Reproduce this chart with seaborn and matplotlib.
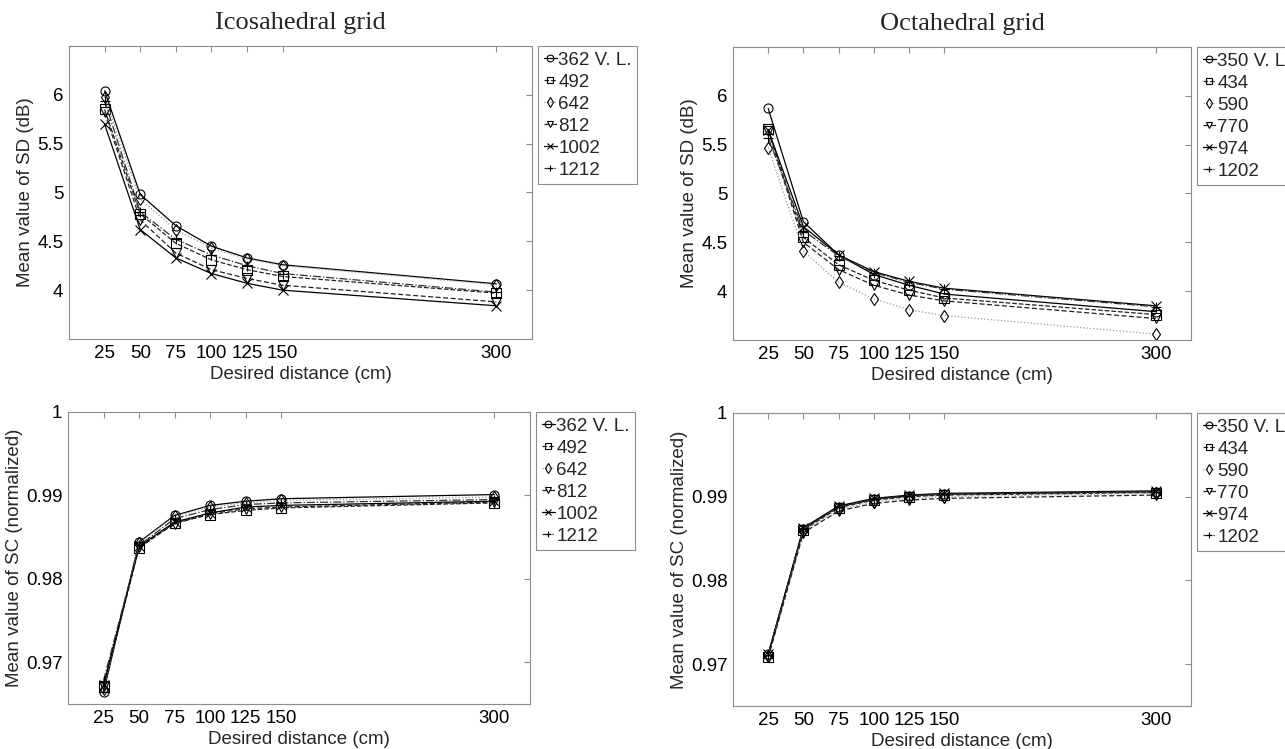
import numpy as np
import pandas as pd
import matplotlib
matplotlib.use("Agg")
import matplotlib.pyplot as plt
from matplotlib.ticker import FuncFormatter
import seaborn as sns

# ---------------- data ----------------
distances = [25, 50, 75, 100, 125, 150, 300]
xticks = [25, 50, 75, 100, 125, 150, 300]

ico_labels = ["362 V. L.", "492", "642", "812", "1002", "1212"]
oct_labels = ["350 V. L", "434", "590", "770", "974", "1202"]

# Icosahedral grid, mean SD (dB)
ico_sd_362 = [6.04, 4.98, 4.66, 4.45, 4.33, 4.26, 4.065]
ico_sd_492 = [5.85, 4.78, 4.48, 4.31, 4.21, 4.14, 3.97]
ico_sd_642 = [5.98, 4.93, 4.62, 4.43, 4.32, 4.25, 4.055]
ico_sd_812 = [5.82, 4.72, 4.38, 4.21, 4.12, 4.05, 3.88]
ico_sd_1002 = [5.70, 4.62, 4.33, 4.17, 4.07, 4.00, 3.84]
ico_sd_1212 = [5.94, 4.80, 4.52, 4.36, 4.25, 4.17, 3.98]

# Octahedral grid, mean SD (dB)
oct_sd_350 = [5.87, 4.71, 4.37, 4.17, 4.06, 3.97, 3.79]
oct_sd_434 = [5.66, 4.55, 4.27, 4.11, 4.01, 3.93, 3.76]
oct_sd_590 = [5.47, 4.41, 4.09, 3.92, 3.81, 3.75, 3.56]
oct_sd_770 = [5.64, 4.50, 4.22, 4.06, 3.96, 3.90, 3.72]
oct_sd_974 = [5.65, 4.66, 4.37, 4.20, 4.10, 4.03, 3.85]
oct_sd_1202 = [5.57, 4.62, 4.36, 4.19, 4.09, 4.02, 3.84]

# Icosahedral grid, mean SC (normalized)
ico_sc_362 = [0.9664, 0.9844, 0.9876, 0.9888, 0.9893, 0.9896, 0.9901]
ico_sc_492 = [0.9670, 0.9837, 0.9867, 0.9877, 0.9882, 0.9885, 0.9891]
ico_sc_642 = [0.9668, 0.9843, 0.9875, 0.9886, 0.9891, 0.9894, 0.9898]
ico_sc_812 = [0.9672, 0.9838, 0.9866, 0.9878, 0.9884, 0.9886, 0.9892]
ico_sc_1002 = [0.9673, 0.9839, 0.9868, 0.9879, 0.9886, 0.9888, 0.9893]
ico_sc_1212 = [0.9678, 0.9840, 0.9872, 0.9883, 0.9889, 0.9891, 0.9895]

# Octahedral grid, mean SC (normalized)
oct_sc_350 = [0.9712, 0.9862, 0.9888, 0.9897, 0.9901, 0.9903, 0.9906]
oct_sc_434 = [0.9709, 0.9860, 0.9887, 0.9896, 0.9900, 0.9902, 0.9905]
oct_sc_590 = [0.9710, 0.9859, 0.9885, 0.9894, 0.9898, 0.9900, 0.9904]
oct_sc_770 = [0.9708, 0.9857, 0.9883, 0.9892, 0.9896, 0.9898, 0.9902]
oct_sc_974 = [0.9712, 0.9863, 0.9889, 0.9898, 0.9902, 0.9904, 0.9907]
oct_sc_1202 = [0.9711, 0.9862, 0.9888, 0.9897, 0.9901, 0.9903, 0.9906]

sd_yticks = [4, 4.5, 5, 5.5, 6]
sc_yticks = [0.97, 0.98, 0.99, 1.0]

titles = ["Icosahedral grid", "Octahedral grid"]
xlabel = "Desired distance (cm)"
ylabel_sd = "Mean value of SD (dB)"
ylabel_sc = "Mean value of SC (normalized)"

# ---------------- style ----------------
sns.set_style("white")
plt.rcParams["font.family"] = ["Liberation Sans", "DejaVu Sans"]
FS = 13.5

series_styles = [
    dict(color="black", linestyle="-", marker="o", mec="black"),
    dict(color="#222222", linestyle="--", marker="s", mec="black"),
    dict(color="#9a9a9a", linestyle=":", marker="d", mec="black"),
    dict(color="#222222", linestyle=(0, (4, 2)), marker="v", mec="black"),
    dict(color="black", linestyle="-", marker="x", mec="black"),
    dict(color="#333333", linestyle="-.", marker="+", mec="black"),
]

fig = plt.figure(figsize=(12.85, 7.49), dpi=100)
positions = {
    "tl": [0.0537, 0.5474, 0.3603, 0.3912],
    "tr": [0.5704, 0.5461, 0.3564, 0.3912],
    "bl": [0.0529, 0.0601, 0.3595, 0.3899],
    "br": [0.5704, 0.0574, 0.3564, 0.3912],
}

panels = [
    ("tl", [ico_sd_362, ico_sd_492, ico_sd_642, ico_sd_812, ico_sd_1002, ico_sd_1212],
     ico_labels, ylabel_sd, (3.5, 6.5), sd_yticks, titles[0]),
    ("tr", [oct_sd_350, oct_sd_434, oct_sd_590, oct_sd_770, oct_sd_974, oct_sd_1202],
     oct_labels, ylabel_sd, (3.5, 6.5), sd_yticks, titles[1]),
    ("bl", [ico_sc_362, ico_sc_492, ico_sc_642, ico_sc_812, ico_sc_1002, ico_sc_1212],
     ico_labels, ylabel_sc, (0.965, 1.0), sc_yticks, None),
    ("br", [oct_sc_350, oct_sc_434, oct_sc_590, oct_sc_770, oct_sc_974, oct_sc_1202],
     oct_labels, ylabel_sc, (0.965, 1.0), sc_yticks, None),
]

spine_color = "#8c8c8c"

for key, series, labels, ylab, ylim, yticks, title in panels:
    ax = fig.add_axes(positions[key])
    for vals, lab, st in zip(series, labels, series_styles):
        df = pd.DataFrame({"distance": distances, "value": vals})
        sns.lineplot(data=df, x="distance", y="value", ax=ax,
                     color=st["color"], linestyle=st["linestyle"],
                     marker=st["marker"], markersize=6.5,
                     markerfacecolor="none", markeredgecolor=st["mec"],
                     markeredgewidth=0.8, linewidth=0.9,
                     label=lab, errorbar=None, sort=False, legend=False)
    ax.set_xlim(0, 325)
    ax.set_ylim(*ylim)
    ax.set_xticks(xticks)
    ax.set_yticks(yticks)
    ax.yaxis.set_major_formatter(FuncFormatter(lambda v, p: "%g" % v))
    ax.tick_params(direction="in", length=4, width=0.8, colors=spine_color,
                   labelcolor="black", labelsize=FS, top=True, right=True,
                   pad=4)
    for sp in ax.spines.values():
        sp.set_color(spine_color)
        sp.set_linewidth(0.8)
    ax.set_xlabel(xlabel, fontsize=FS, labelpad=3)
    ax.set_ylabel(ylab, fontsize=FS, labelpad=2)
    if title:
        ax.set_title(title, family=["Liberation Serif", "DejaVu Serif"],
                     fontsize=19, pad=12)
    handles, hlabels = ax.get_legend_handles_labels()
    leg = ax.legend(handles, hlabels, loc="upper left",
                    bbox_to_anchor=(1.013, 1.0), borderaxespad=0,
                    fontsize=FS, handlelength=0.7, handletextpad=0.08,
                    labelspacing=0.26, borderpad=0.3, numpoints=1,
                    fancybox=False, framealpha=1, edgecolor=spine_color,
                    markerscale=0.75)
    leg.get_frame().set_linewidth(0.8)

fig.savefig("out.png", dpi=100)
